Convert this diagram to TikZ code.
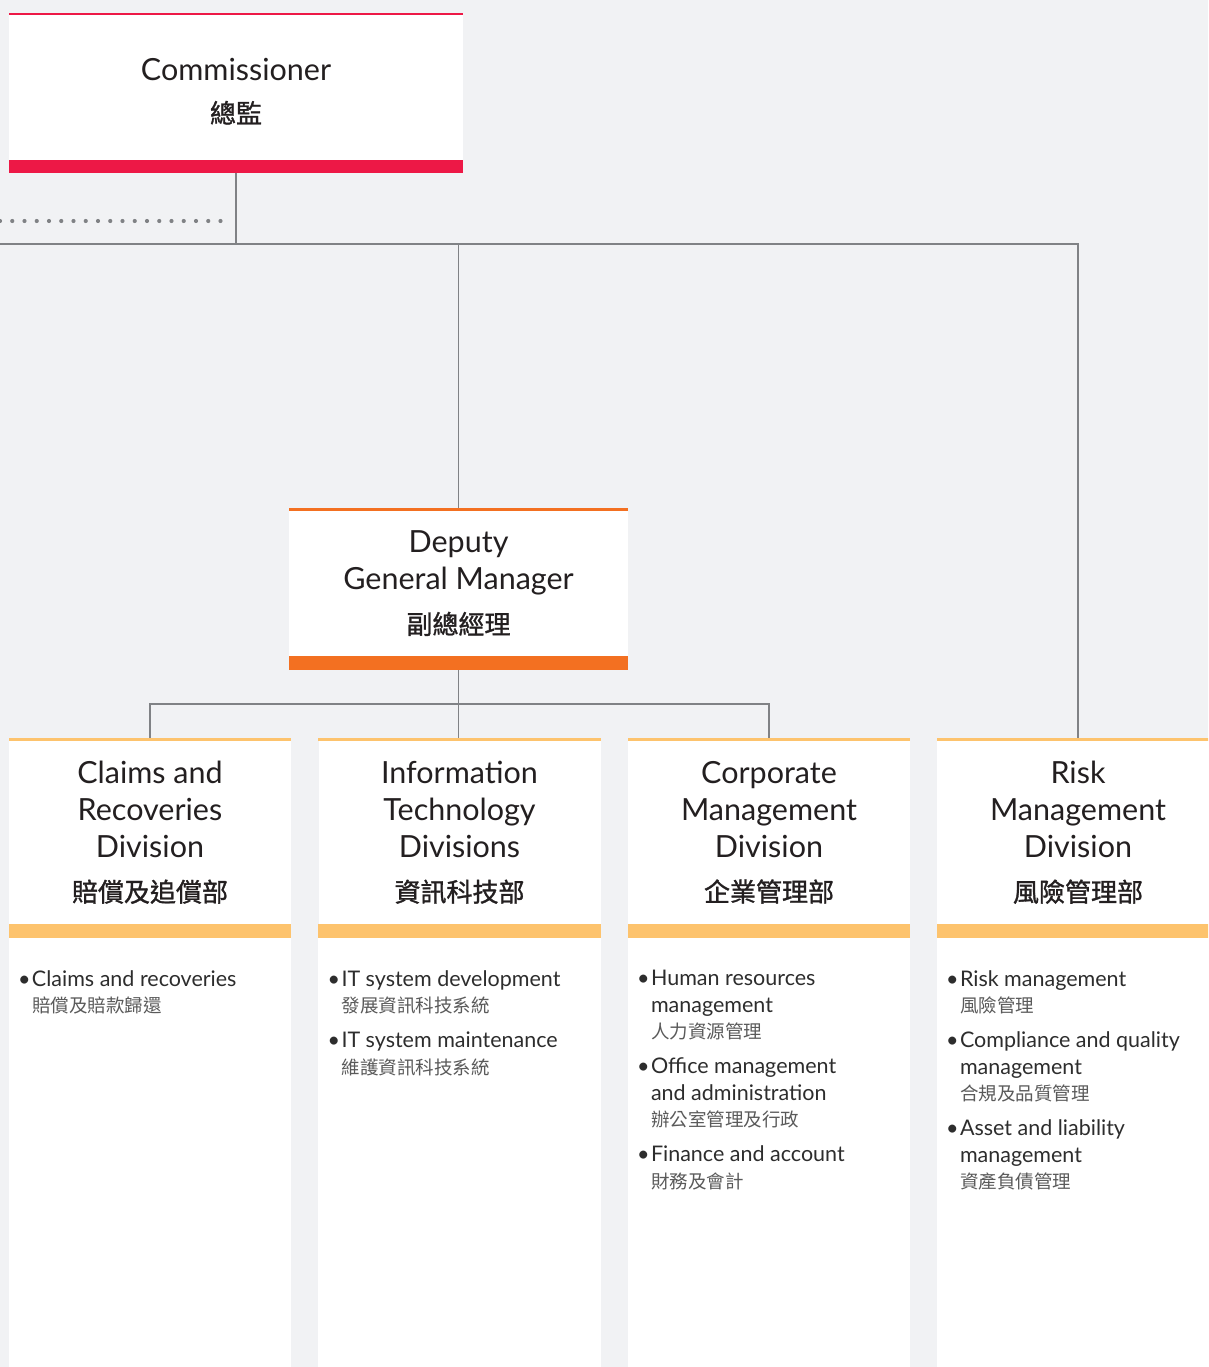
\documentclass[tikz,border=0pt]{standalone}
\usepackage{fontspec}
\setmainfont{Lato}
\newfontfamily\cjk{Noto Sans CJK TC}
\newfontfamily\cjkbold{Noto Sans CJK TC}[FakeBold=1.2]
\usetikzlibrary{positioning}

\definecolor{paper}{RGB}{241,242,244}
\definecolor{ink}{RGB}{35,31,32}
\definecolor{listink}{RGB}{45,45,45}
\definecolor{listsub}{RGB}{90,90,90}
\definecolor{rule}{RGB}{128,130,133}
\definecolor{crimson}{RGB}{237,24,70}
\definecolor{tangerine}{RGB}{243,112,33}
\definecolor{apricot}{RGB}{253,195,109}

\newcommand{\titlefont}{\fontsize{30.5}{37}\selectfont}
\newcommand{\cjktitle}[1]{{\cjkbold\fontsize{26}{30}\selectfont #1}}
% one bullet entry: english line(s), then chinese line
\newcommand{\duty}[2]{\par\hangindent=14pt\hangafter=1\noindent\makebox[14pt][l]{\textbullet}#1\newline{\cjk\color{listsub}\fontsize{18.5}{26.5}\selectfont #2}\par\addvspace{8.5pt}}
\newcommand{\dutylist}[1]{\begin{minipage}[t]{268pt}#1\end{minipage}}

\begin{document}
\begin{tikzpicture}[x=1pt,y=-1pt,
  boxhead/.style={fill=white, inner sep=0pt, align=center, text=ink, font=\titlefont},
  boxtext/.style={inner sep=0pt, align=center, text=ink, font=\titlefont},
  divhead/.style={boxhead, minimum width=282pt, minimum height=183pt},
  link/.style={draw=rule, line width=1.3pt},
  dotrow/.style={draw=rule, line width=4.2pt, line cap=round, dash pattern=on 0pt off 12.25pt},
  duties/.style={inner sep=0pt, text=listink, font=\fontsize{21.5}{26.5}\selectfont}]

\useasboundingbox (0,0) rectangle (1208,1367);
\clip (0,0) rectangle (1208,1367);
%Shape: background
\fill [paper] (0,0) rectangle (1208,1367);

% Boxes
\node [boxhead, minimum width=454pt, minimum height=145pt,
  label={[boxtext, yshift=-4pt]center:{Commissioner\\[5pt]\cjktitle{總監}}}] (comm) at (236,87.5) {};
\node [boxhead, minimum width=339pt, minimum height=145pt] (dgm) at (458.5,583.5) {Deputy\\General Manager\\[7pt]\cjktitle{副總經理}};

\node [divhead] (claims) at (150,832.5) {Claims and\\Recoveries\\Division\\[7pt]\cjktitle{賠償及追償部}};
\node [divhead] (itd) at (459.5,832.5) {Information\\Technology\\Divisions\\[7pt]\cjktitle{資訊科技部}};
\node [divhead] (cmd) at (769,832.5) {Corporate\\Management\\Division\\[7pt]\cjktitle{企業管理部}};
\node [divhead] (rmd) at (1078,832.5) {Risk\\Management\\Division\\[7pt]\cjktitle{風險管理部}};

\coordinate (hub) at (236,244);
\coordinate (offleft) at (0,244);
\coordinate (fork) at (459,704);
\coordinate (dotstart) at (0,221);
\coordinate (dotend) at (225,221);

% Connectors
\draw [dotrow] (dotstart) -- (dotend);
\draw [link] (comm.south) -- (hub);
\draw [link] (offleft) -- (rmd.north |- hub) -- (rmd.north);
\draw [link] (dgm.north |- hub) -- (dgm.north);
\draw [link] (dgm.south) -- (dgm.south |- itd.north);
\draw [link] (claims.north) -- (claims.north |- fork) -- (cmd.north |- fork) -- (cmd.north);

% Colour bars and duty panels
\fill [crimson] (comm.north west) rectangle ([yshift=2pt]comm.north east);
\fill [crimson] (comm.south west) rectangle ([yshift=-13pt]comm.south east);
\foreach \n/\c in {dgm/tangerine, claims/apricot, itd/apricot, cmd/apricot, rmd/apricot} {
  \fill [\c] (\n.north west) rectangle ([yshift=2.5pt]\n.north east);
  \fill [\c] (\n.south west) rectangle ([yshift=-14pt]\n.south east);
}
\foreach \n in {claims, itd, cmd, rmd}
  \fill [white] ([yshift=-14pt]\n.south west) rectangle (\n.east |- 0,1367);

% Duty lists
\node [duties, below right=46pt and 9pt of claims.south west] (claimslist) {\dutylist{%
  \duty{Claims and recoveries}{賠償及賠款歸還}}};
\node [duties, below right=46pt and 9pt of itd.south west] (itdlist) {\dutylist{%
  \duty{IT system development}{發展資訊科技系統}%
  \duty{IT system maintenance}{維護資訊科技系統}}};
\node [duties, below right=46pt and 9pt of cmd.south west] (cmdlist) {\dutylist{%
  \duty{Human resources\newline management}{人力資源管理}%
  \duty{Office management\newline and administration}{辦公室管理及行政}%
  \duty{Finance and account}{財務及會計}}};
\node [duties, below right=46pt and 9pt of rmd.south west] (rmdlist) {\dutylist{%
  \duty{Risk management}{風險管理}%
  \duty{Compliance and quality\newline management}{合規及品質管理}%
  \duty{Asset and liability\newline management}{資產負債管理}}};

\end{tikzpicture}
\end{document}
